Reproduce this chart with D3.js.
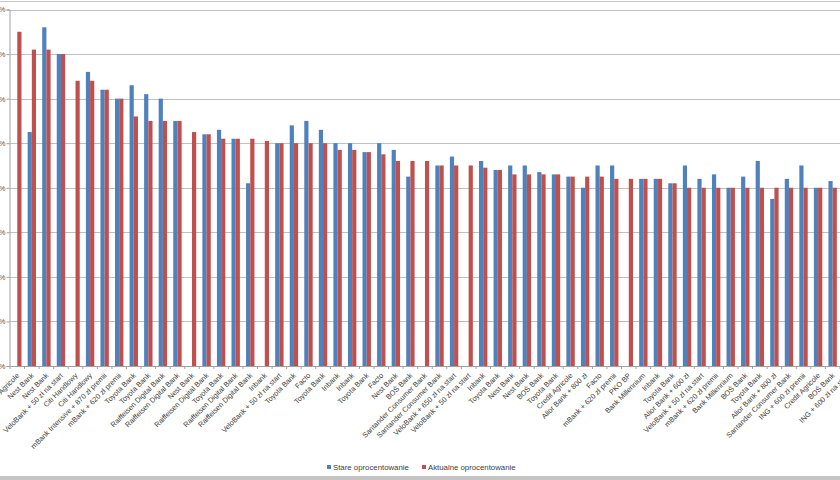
<!DOCTYPE html>
<html>
<head>
<meta charset="utf-8">
<script src="https://cdn.jsdelivr.net/npm/d3@7"></script>
<style>
  body { margin: 0; background: #fff; }
  svg { display: block; font-family: "Liberation Sans", Arial, sans-serif; }
</style>
</head>
<body>
<svg id="chart" width="840" height="480"></svg>
<script>
// Categories (bank + offer), left to right
const categories = [
  'Credit Agricole', 'Nest Bank', 'Nest Bank', 'VeloBank + 50 zł na start', 'Citi Handlowy',
  'Citi Handlowy', 'mBank Intensive + 870 zł premii', 'mBank + 620 zł premii', 'Toyota Bank', 'Toyota Bank',
  'Raiffeisen Digital Bank', 'Raiffeisen Digital Bank', 'Nest Bank', 'Raiffeisen Digital Bank', 'Toyota Bank',
  'Raiffeisen Digital Bank', 'Raiffeisen Digital Bank', 'Inbank', 'VeloBank + 50 zł na start', 'Toyota Bank',
  'Facto', 'Toyota Bank', 'Inbank', 'Inbank', 'Toyota Bank',
  'Facto', 'Nest Bank', 'BOŚ Bank', 'Santander Consumer Bank', 'Santander Consumer Bank',
  'VeloBank + 650 zł na start', 'VeloBank + 50 zł na start', 'Inbank', 'Toyota Bank', 'Nest Bank',
  'Nest Bank', 'BOŚ Bank', 'Toyota Bank', 'Credit Agricole', 'Alior Bank + 800 zł',
  'Facto', 'mBank + 620 zł premii', 'PKO BP', 'Bank Millennium', 'Inbank',
  'Toyota Bank', 'Alior Bank + 600 zł', 'VeloBank + 50 zł na start', 'mBank + 620 zł premii', 'Bank Millennium',
  'BOŚ Bank', 'Toyota Bank', 'Alior Bank + 800 zł', 'Santander Consumer Bank', 'ING + 600 zł premii',
  'Credit Agricole', 'BOŚ Bank', 'ING + 600 zł na start'
];

// Old rate (%), null where there was no previous value
const stare = [
  null, 5.25, 7.6, 7.0, null,
  6.6, 6.2, 6.0, 6.3, 6.1,
  6.0, 5.5, null, 5.2, 5.3,
  5.1, 4.1, null, 5.0, 5.4,
  5.5, 5.3, 5.0, 5.0, 4.8,
  5.0, 4.85, 4.25, null, 4.5,
  4.7, null, 4.6, 4.4, 4.5,
  4.5, 4.35, 4.3, 4.25, 4.0,
  4.5, 4.5, null, 4.2, 4.2,
  4.1, 4.5, 4.2, 4.3, 4.0,
  4.25, 4.6, 3.75, 4.2, 4.5,
  4.0, 4.15, 4.0
];

// Current rate (%)
const aktualne = [
  7.5, 7.1, 7.1, 7.0, 6.4,
  6.4, 6.2, 6.0, 5.6, 5.5,
  5.5, 5.5, 5.25, 5.2, 5.1,
  5.1, 5.1, 5.05, 5.0, 5.0,
  5.0, 5.0, 4.85, 4.85, 4.8,
  4.75, 4.6, 4.6, 4.6, 4.5,
  4.5, 4.5, 4.45, 4.4, 4.3,
  4.3, 4.3, 4.3, 4.25, 4.25,
  4.25, 4.2, 4.2, 4.2, 4.2,
  4.1, 4.0, 4.0, 4.0, 4.0,
  4.0, 4.0, 4.0, 4.0, 4.0,
  4.0, 4.0, 4.0
];

const yTicks = [0, 1, 2, 3, 4, 5, 6, 7, 8];
const seriesNames = ['Stare oprocentowanie', 'Aktualne oprocentowanie'];
const seriesColors = ['#4f81bd', '#c0504d'];

const svg = d3.select('#chart');
const W = 840, H = 480;
const plot = { left: 9.5, top: 9.5, bottom: 366 };
const step = 14.56;

// frame lines of the original screenshot
svg.append('line')
  .attr('x1', 0).attr('x2', W).attr('y1', 1.5).attr('y2', 1.5)
  .attr('stroke', '#c8c8c8').attr('stroke-width', 1);
svg.append('rect')
  .attr('x', 0).attr('y', 476).attr('width', W).attr('height', 4)
  .attr('fill', '#c4c4c4');

const x = d3.scaleBand()
  .domain(d3.range(categories.length))
  .range([10, 10 + categories.length * step])
  .paddingInner(0).paddingOuter(0);

const x1 = d3.scaleBand()
  .domain(seriesNames)
  .range([0, x.bandwidth()])
  .paddingInner(0).paddingOuter(0.735);

const y = d3.scaleLinear().domain([0, 8]).range([plot.bottom, plot.top]);

// gridlines
svg.append('g')
  .selectAll('line')
  .data(yTicks.slice(1))
  .join('line')
  .attr('x1', plot.left).attr('x2', W)
  .attr('y1', d => Math.round(y(d)) + 0.5).attr('y2', d => Math.round(y(d)) + 0.5)
  .attr('stroke', '#c0c0c0');

// y axis (labels mostly cut off by the left edge)
const yAxis = svg.append('g')
  .attr('transform', `translate(${plot.left},0)`)
  .call(d3.axisLeft(y).tickValues(yTicks).tickFormat(d => d + '%').tickSize(3).tickPadding(1));
yAxis.select('.domain').attr('stroke', '#a0a0a0');
yAxis.selectAll('.tick line').attr('stroke', '#a0a0a0');
yAxis.selectAll('.tick text').attr('font-size', 7.5).attr('fill', '#555');

// bars
const groups = svg.append('g')
  .selectAll('g')
  .data(categories.map((c, i) => i))
  .join('g')
  .attr('transform', i => `translate(${x(i)},0)`);

groups.selectAll('rect')
  .data(i => [
    { s: seriesNames[0], v: stare[i], c: seriesColors[0] },
    { s: seriesNames[1], v: aktualne[i], c: seriesColors[1] }
  ].filter(d => d.v != null))
  .join('rect')
  .attr('x', d => x1(d.s))
  .attr('width', x1.bandwidth())
  .attr('y', d => y(d.v))
  .attr('height', d => y(0) - y(d.v))
  .attr('fill', d => d.c);

// x axis line and ticks at category boundaries
svg.append('line')
  .attr('x1', plot.left).attr('x2', W)
  .attr('y1', plot.bottom + 0.5).attr('y2', plot.bottom + 0.5)
  .attr('stroke', '#a0a0a0');
svg.append('g')
  .selectAll('line')
  .data(d3.range(categories.length + 1))
  .join('line')
  .attr('x1', i => x(0) + i * step).attr('x2', i => x(0) + i * step)
  .attr('y1', plot.bottom).attr('y2', plot.bottom + 3)
  .attr('stroke', '#a0a0a0');

// rotated category labels
svg.append('g')
  .selectAll('text')
  .data(categories)
  .join('text')
  .attr('transform', (d, i) => `translate(${x(i) + x.bandwidth() / 2 + 2.5},${plot.bottom + 10}) rotate(-45)`)
  .attr('text-anchor', 'end')
  .attr('font-size', 7.3)
  .attr('fill', '#404040')
  .text(d => d);

// legend
const legendX = [327, 422];
const legend = svg.append('g')
  .selectAll('g')
  .data(seriesNames)
  .join('g')
  .attr('transform', (d, i) => `translate(${legendX[i]},465)`);
legend.append('rect')
  .attr('width', 4).attr('height', 4)
  .attr('fill', (d, i) => seriesColors[i]);
legend.append('text')
  .attr('x', 6).attr('y', 4.5)
  .attr('font-size', 7.8)
  .attr('fill', '#404040')
  .text(d => d);
</script>
</body>
</html>
